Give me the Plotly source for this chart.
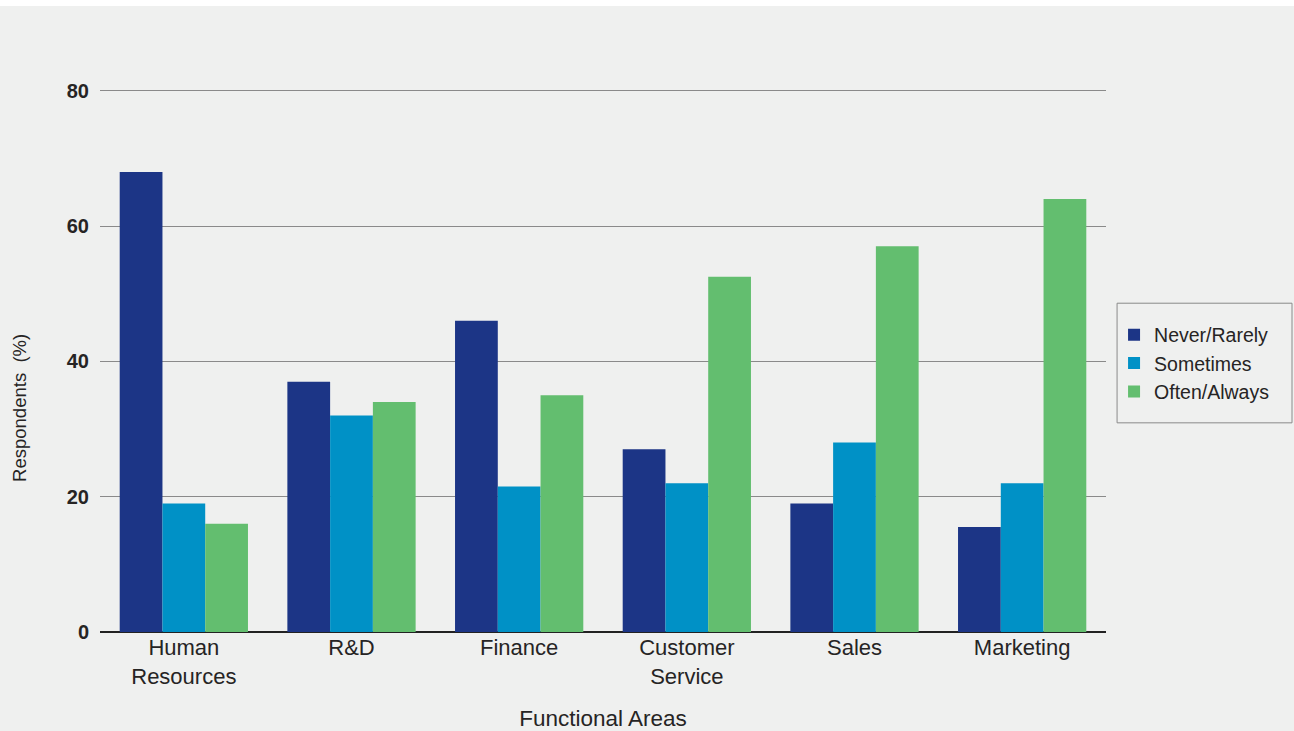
import plotly.graph_objects as go

categories = ["Human<br>Resources", "R&D", "Finance", "Customer<br>Service", "Sales", "Marketing"]
never_rarely = [68, 37, 46, 27, 19, 15.5]
sometimes = [19, 32, 21.5, 22, 28, 22]
often_always = [16, 34, 35, 52.5, 57, 64]
series_names = ["Never/Rarely", "Sometimes", "Often/Always"]
colors = ["#1C3586", "#0091C6", "#63BE6F"]
y_ticks = [0, 20, 40, 60, 80]

BG = "#EFF0EF"
FONT = "Liberation Sans, Arial, sans-serif"
TXT = "#262424"

fig = go.Figure()
for name, vals, col in zip(series_names, [never_rarely, sometimes, often_always], colors):
    fig.add_trace(go.Bar(x=categories, y=vals, name=name, marker=dict(color=col, line=dict(width=0))))

fig.update_layout(
    width=1294, height=731,
    barmode="group", bargap=0.235, bargroupgap=0,
    paper_bgcolor=BG, plot_bgcolor=BG,
    margin=dict(l=100, r=188, t=88, b=99, autoexpand=False),
    font=dict(family=FONT, color=TXT),
    showlegend=True,
    legend=dict(
        x=1.008, xanchor="left", y=0.4935, yanchor="middle",
        borderwidth=0, bgcolor="rgba(0,0,0,0)",
        font=dict(size=19.5, family=FONT, color=TXT),
        itemwidth=30, tracegroupgap=0,
    ),
    xaxis=dict(
        showgrid=False, showline=False, zeroline=False, automargin=False,
        tickfont=dict(size=22, family=FONT, color=TXT),
        title=dict(text="Functional Areas", font=dict(size=22.5, family=FONT, color=TXT), standoff=23),
        fixedrange=True,
    ),
    yaxis=dict(
        range=[0, 80.4], tickvals=y_ticks, automargin=False,
        showgrid=True, gridcolor="#8a8a8a", gridwidth=1,
        zeroline=True, zerolinecolor="#222222", zerolinewidth=1.5,
        showline=False,
        ticklabelstandoff=10,
        tickfont=dict(size=20, family=FONT, color=TXT, weight="bold"),
    ),
    annotations=[
        dict(text="Respondents  (%)", xref="paper", yref="paper", x=-0.0795, y=0.412,
             xanchor="center", yanchor="middle", textangle=-90, showarrow=False,
             font=dict(size=18.5, family=FONT, color=TXT)),
    ],
    shapes=[
        dict(type="rect", xref="paper", yref="paper", x0=-0.2, x1=1.3, y0=1.1507, y1=1.25,
             fillcolor="white", line=dict(width=0), layer="below"),
        dict(type="rect", xref="paper", yref="paper", x0=1.011, x1=1.1849, y0=0.3845, y1=0.6044,
             fillcolor="rgba(0,0,0,0)", line=dict(color="#8a8a8a", width=1), layer="above"),
    ],
)

fig.write_html("out.html", config={"displayModeBar": False},
               post_script="document.body.style.margin='0';")
